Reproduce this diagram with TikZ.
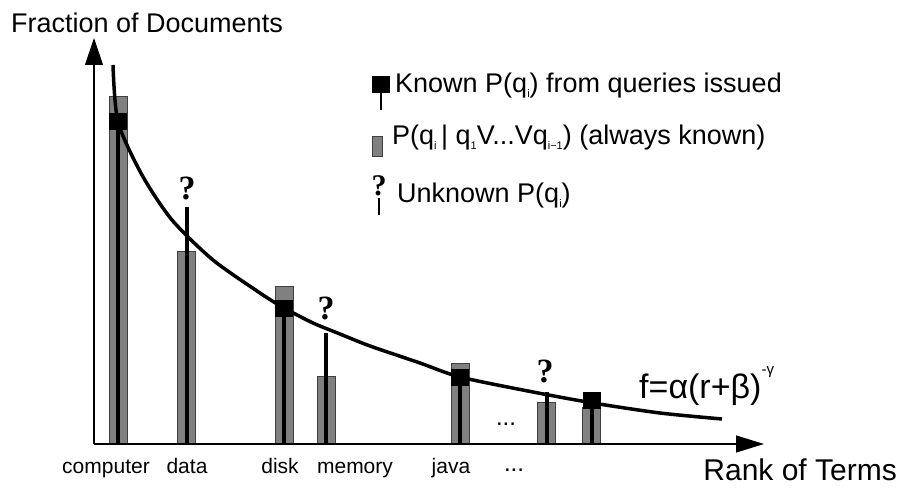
\documentclass[tikz,border=0pt]{standalone}
\usepackage{fontspec}
\setmainfont{Liberation Sans}
\newfontfamily\qmarkfont{Liberation Serif}
\usetikzlibrary{arrows.meta,positioning}
\newcommand{\lowidx}[1]{\raisebox{-0.35ex}{\fontsize{11}{11}\selectfont #1}}
\newcommand{\highidx}[1]{\raisebox{1.3ex}{\fontsize{15}{15}\selectfont #1}}

\tikzset{
  bar/.style={draw=black!75, fill=black!50, line width=1pt},
  stem/.style={line width=3.5pt},
  known/.style={fill=black, minimum width=18pt, minimum height=17pt, inner sep=0pt},
  unknown/.style={font=\qmarkfont\bfseries\fontsize{34}{34}\selectfont, inner sep=0pt, anchor=base},
  term/.style={font=\fontsize{21}{24}\selectfont, inner sep=0pt, anchor=base},
  big/.style={font=\fontsize{27}{30}\selectfont, inner sep=0pt},
}

\begin{document}
\begin{tikzpicture}[x=1pt,y=-1pt]
    \useasboundingbox (0,0) rectangle (899,489);
    \coordinate (origin) at (94,444);
    \coordinate (ytip) at (94,38);
    \coordinate (xtip) at (764,444);

    \foreach \x/\top in {118/97, 186/251, 284/286, 326/376, 460/363, 546/402, 591/407}
      \draw[bar] (\x-9,444) rectangle (\x+9,\top);

    \foreach \x/\top in {118/122, 284/308, 460/377, 592/400}
      \draw[stem] (\x,\top) -- (\x,444);
    \foreach \x/\top in {187/207, 326/333, 547/392}
      \draw[stem] (\x,\top) -- (\x,444);

    \draw[line width=3.5pt, line join=round] plot[smooth, tension=0.45] coordinates
      {(113,65) (118,122) (142,175) (172,220) (213,260) (260,293) (284,308)
       (313,323) (340,334) (370,346) (420,363) (460,377) (533,392) (593,403)
       (660,413) (722,419)};

    \node[known] (kcomputer) at (118,122) {};
    \node[known] (kdisk) at (284,308) {};
    \node[known] (kjava) at (460,377) {};
    \node[known] (klast) at (592,400) {};

    \node[unknown] (udata) at (187,200) {?};
    \node[unknown] (umemory) at (326,319) {?};
    \node[unknown] (umore) at (545,382) {?};

    \node[term, font=\fontsize{24}{24}\selectfont] (dotsmid) at (506,425) {...};

    \draw[line width=1.2pt, -{Triangle[length=27pt,width=18pt]}] (origin) -- (ytip);
    \draw[line width=1.2pt, -{Triangle[length=28pt,width=17pt]}] (origin) -- (xtip);

    \node[big, anchor=base west] (ylabel) at (11,33) {Fraction of Documents};
    \node[big, anchor=base east, font=\fontsize{30}{30}\selectfont] (xlabel) at (897,480) {Rank of Terms};

    \node[term] (tcomputer) at (106,473) {computer};
    \node[term] (tdata) at (187,473) {data};
    \node[term] (tdisk) at (280,473) {disk};
    \node[term] (tmemory) at (355,473) {memory};
    \node[term] (tjava) at (451,473) {java};
    \node[term, font=\fontsize{24}{24}\selectfont] (tdots) at (514,471) {...};

    \node[big, anchor=base west, font=\fontsize{34}{34}\selectfont] (formula) at (639,398) {f=α(r+β)\highidx{-γ}};

    \draw[line width=1.2pt] (381,90) -- (381,110);
    \node[known] (legknown) at (381,85) {};
    \node[big, anchor=base west] (txtknown) at (395,93) {Known P(q\lowidx{i}) from queries issued};

    \draw[bar] (372,137) rectangle (382,157);
    \node[big, anchor=base west] (txtcond) at (392,145)
      {P(q\lowidx{i}\,| q\lowidx{1}V...Vq\lowidx{i−1}) (always known)};

    \draw[line width=1.2pt] (379,198) -- (379,215);
    \node[unknown, font=\qmarkfont\bfseries\fontsize{30}{30}\selectfont] (legunknown) at (379,196) {?};
    \node[big, anchor=base west] (txtunknown) at (397,203) {Unknown P(q\lowidx{i})};
  \end{tikzpicture}
\end{document}
